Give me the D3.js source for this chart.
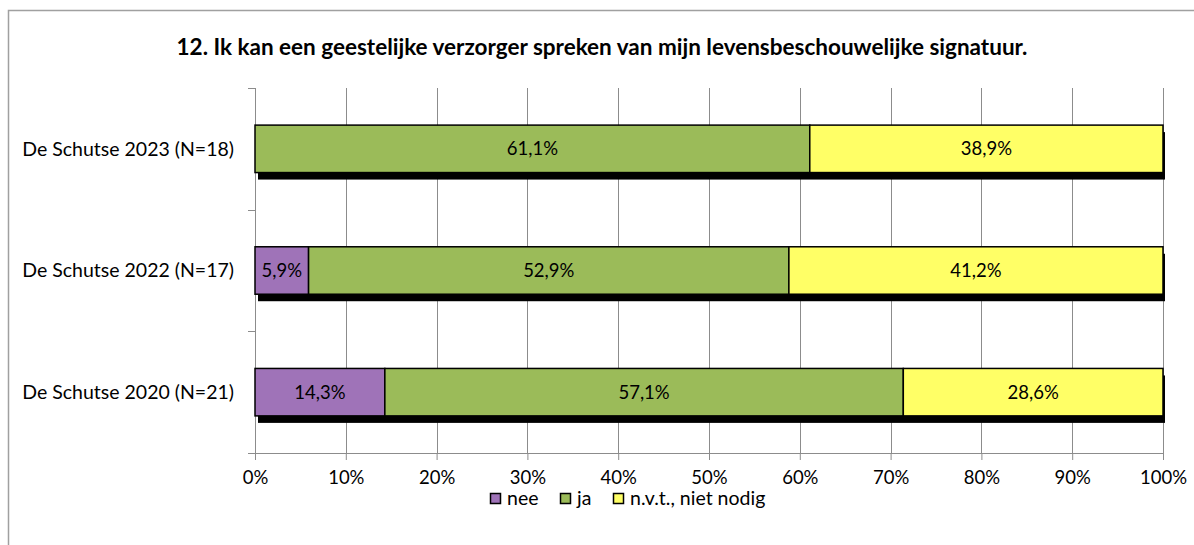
<!DOCTYPE html>
<html>
<head>
<meta charset="utf-8">
<script src="https://cdn.jsdelivr.net/npm/d3@7"></script>
<style>
  body { margin: 0; background: #fff; }
  svg text { font-family: Lato, "Open Sans", sans-serif; fill: #000; }
</style>
</head>
<body>
<svg id="chart" width="1194" height="545"></svg>
<script>
var title = "12. Ik kan een geestelijke verzorger spreken van mijn levensbeschouwelijke signatuur.";
var categories = ["De Schutse 2023 (N=18)", "De Schutse 2022 (N=17)", "De Schutse 2020 (N=21)"];
var seriesNames = ["nee", "ja", "n.v.t., niet nodig"];
var nee = [0, 5.9, 14.3];
var ja = [61.1, 52.9, 57.1];
var nvt = [38.9, 41.2, 28.6];
var xTicks = [0, 10, 20, 30, 40, 50, 60, 70, 80, 90, 100];

var colors = ["#9f73b8", "#9bbb59", "#ffff66"];
var margins = {top: 88, left: 255, right: 31, bottom: 92};
var width = 1194 - margins.left - margins.right,
    height = 545 - margins.top - margins.bottom;
var labelSize = "18.5px",
    catSize = "19.5px";

var svg = d3.select("#chart");

// chart frame
svg.append("rect")
    .attr("x", 8.5).attr("y", 10.5)
    .attr("width", 1200).attr("height", 600)
    .attr("fill", "none").attr("stroke", "#a0a0a0").attr("stroke-width", 1.5);

svg.append("text")
    .attr("x", 602).attr("y", 55)
    .attr("text-anchor", "middle")
    .style("font-size", "22.5px").style("font-weight", "bold")
    .text(title);

var x = d3.scaleLinear().domain([0, 100]).range([0, width]);
var y = d3.scaleBand().domain(categories).range([0, height])
    .paddingInner(0.61).paddingOuter(0.305);

var g = svg.append("g").attr("transform", "translate(" + margins.left + "," + margins.top + ")");

// gridlines
g.selectAll("line.grid").data(xTicks).enter().append("line")
    .attr("class", "grid")
    .attr("x1", function(d) { return Math.round(x(d)) + 0.5; })
    .attr("x2", function(d) { return Math.round(x(d)) + 0.5; })
    .attr("y1", 0).attr("y2", height)
    .attr("stroke", "#8c8c8c").attr("stroke-width", 1);

// x axis
var xAxis = g.append("g").attr("transform", "translate(0," + height + ")")
    .call(d3.axisBottom(x).tickValues(xTicks).tickFormat(function(d) { return d + "%"; })
        .tickSizeInner(7).tickSizeOuter(0).tickPadding(11));
xAxis.select(".domain").attr("stroke", "#8c8c8c");
xAxis.selectAll(".tick line").attr("stroke", "#8c8c8c");
xAxis.selectAll("text").style("font-size", labelSize).attr("fill", "#000");

// y axis: ticks at band boundaries
var yBounds = d3.range(categories.length + 1).map(function(i) { return i * height / categories.length; });
g.append("line").attr("x1", 0.5).attr("x2", 0.5).attr("y1", 0).attr("y2", height)
    .attr("stroke", "#8c8c8c");
g.selectAll("line.ytick").data(yBounds).enter().append("line")
    .attr("class", "ytick")
    .attr("x1", -7).attr("x2", 0)
    .attr("y1", function(d) { return Math.round(d) + 0.5; })
    .attr("y2", function(d) { return Math.round(d) + 0.5; })
    .attr("stroke", "#8c8c8c");
g.selectAll("text.ylab").data(categories).enter().append("text")
    .attr("class", "ylab")
    .attr("x", -21)
    .attr("y", function(d) { return y(d) + y.bandwidth() / 2; })
    .attr("dy", "0.35em")
    .attr("text-anchor", "end")
    .style("font-size", catSize)
    .text(function(d) { return d; });

// stacked data
var rows = categories.map(function(c, i) {
    return {cat: c, nee: nee[i], ja: ja[i], nvt: nvt[i]};
});
var stack = d3.stack().keys(["nee", "ja", "nvt"]);
var series = stack(rows);

// shadow behind each bar
g.selectAll("rect.shadow").data(rows).enter().append("rect")
    .attr("class", "shadow")
    .attr("x", 3)
    .attr("y", function(d) { return y(d.cat) + 7; })
    .attr("width", function(d) { return x(d.nee + d.ja + d.nvt) - 1; })
    .attr("height", y.bandwidth())
    .attr("fill", "#000");

var layers = g.selectAll("g.layer").data(series).enter().append("g")
    .attr("class", "layer")
    .attr("fill", function(d, i) { return colors[i]; });

layers.selectAll("rect").data(function(d) { return d.filter(function(p) { return p[1] - p[0] > 0; }); })
    .enter().append("rect")
    .attr("x", function(d) { return x(d[0]); })
    .attr("y", function(d) { return y(d.data.cat); })
    .attr("width", function(d) { return x(d[1]) - x(d[0]); })
    .attr("height", y.bandwidth())
    .attr("stroke", "#000").attr("stroke-width", 1.5);

layers.selectAll("text").data(function(d) { return d.filter(function(p) { return p[1] - p[0] > 0; }); })
    .enter().append("text")
    .attr("x", function(d) { return x((d[0] + d[1]) / 2); })
    .attr("y", function(d) { return y(d.data.cat) + y.bandwidth() / 2; })
    .attr("dy", "0.35em")
    .attr("text-anchor", "middle")
    .style("font-size", labelSize)
    .style("fill", "#000")
    .text(function(d) { return d3.format(".1f")(d[1] - d[0]).replace(".", ",") + "%"; });

// legend
var legendX = [490, 560, 613];
var legend = svg.selectAll("g.legend").data(seriesNames).enter().append("g")
    .attr("class", "legend")
    .attr("transform", function(d, i) { return "translate(" + legendX[i] + ",493)"; });
legend.append("rect")
    .attr("x", 0.5).attr("y", 0.5).attr("width", 10).attr("height", 10)
    .attr("fill", function(d, i) { return colors[i]; })
    .attr("stroke", "#000").attr("stroke-width", 1.5);
legend.append("text")
    .attr("x", 17).attr("y", 5.5).attr("dy", "0.35em")
    .style("font-size", catSize)
    .text(function(d) { return d; });
</script>
</body>
</html>
